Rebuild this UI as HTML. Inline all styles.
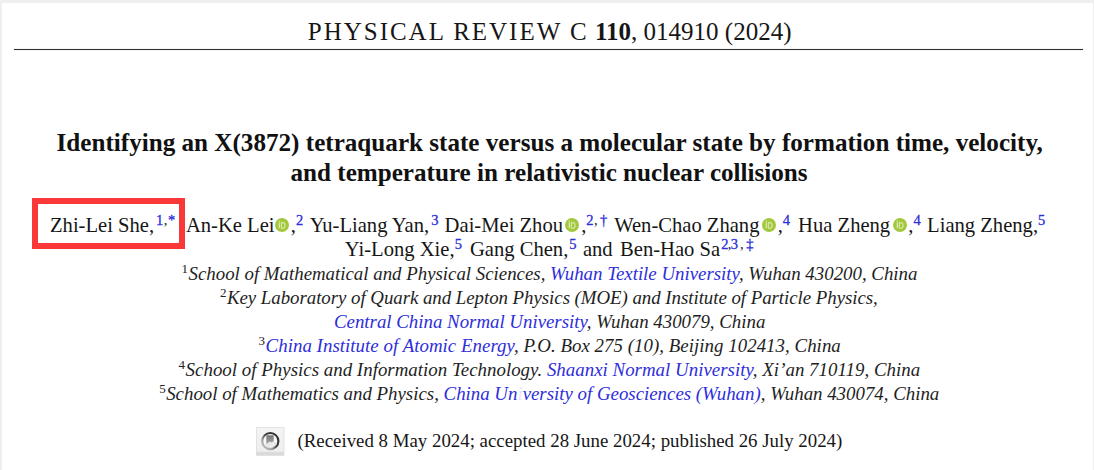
<!DOCTYPE html>
<html>
<head>
<meta charset="utf-8">
<style>
html,body{margin:0;padding:0;}
body{width:1094px;height:470px;overflow:hidden;background:#efefef;position:relative;font-family:"Liberation Serif",serif;color:#161616;}
#page{position:absolute;left:2px;top:3px;width:1091px;height:467px;background:#fff;}
.ln{position:absolute;left:0;text-align:left;white-space:nowrap;line-height:30px;height:30px;}
.hdr{font-size:25px;transform:translateY(0.25px) scaleY(1.035);transform-origin:0 23px;}
.hdr .sp{letter-spacing:1.98px;}
#rule{position:absolute;left:14px;top:49px;width:1069px;height:1px;background:#2e2e2e;box-shadow:0 0 1px rgba(0,0,0,.35);}
.ttl{font-size:25.14px;font-weight:bold;color:#111;}
.au{font-size:20.6px;}
.af{font-size:18.85px;font-style:italic;color:#1e1e1e;}
.rc{font-size:18.85px;}
sup{font-size:14.5px;line-height:0;vertical-align:baseline;position:relative;top:-7px;color:#1a1a1a;font-style:normal;letter-spacing:.5px;}
.au sup{margin-right:3.3px;}
.au sup.l{margin-right:0;}
.au sup a{-webkit-text-stroke:0.3px #2e2edb;}
.af sup{color:#222;font-size:13px;top:-7px;}
.af sup.b{color:#3333dd;}
a{color:#2e2edb;text-decoration:none;}
.orc{display:inline-block;width:14px;height:14px;vertical-align:baseline;position:relative;top:0.4px;margin:0 1.8px 0 2.4px;}
#box{position:absolute;left:32px;top:198px;width:153px;height:50.7px;box-sizing:border-box;border:6.9px solid #fa3838;}
#cm{position:absolute;left:256px;top:427px;width:28.5px;height:28.5px;}
</style>
</head>
<body>
<div id="page"></div>
<div class="ln hdr" id="hdr" style="top:17px;left:307.8px;"><span class="sp">PHYSICAL REVIEW C</span> <b>110</b>, 014910 (2024)</div>
<div id="rule"></div>
<div class="ln ttl" id="t1" style="top:128px;left:56.6px;">Identifying an X(3872) tetraquark state versus a molecular state by formation time, velocity,</div>
<div class="ln ttl" id="t2" style="top:158px;left:290.5px;">and temperature in relativistic nuclear collisions</div>
<div class="ln au" id="a1" style="top:210px;left:50px;">Zhi-Lei She,<sup style="margin-left:2px;margin-right:6.2px"><a>1</a>,<a>*</a></sup> An-Ke Lei<svg class="orc" style="margin-left:0.5px" viewBox="0 0 14 14"><circle cx="7" cy="7" r="7" fill="#a3c83e"/><rect x="3.7" y="4.6" width="1.3" height="5.6" fill="#d8eaa8"/><circle cx="4.35" cy="3.3" r="0.75" fill="#d8eaa8"/><path d="M6.4 4.6h1.2a2.5 2.8 0 0 1 0 5.6h-1.2z" fill="none" stroke="#d8eaa8" stroke-width="1.1"/></svg>,<sup style="margin-right:1.5px"><a>2</a></sup> Yu-Liang Yan,<sup style="margin-left:2px;margin-right:0.5px"><a>3</a></sup> Dai-Mei Zhou<svg class="orc" viewBox="0 0 14 14"><circle cx="7" cy="7" r="7" fill="#a3c83e"/><rect x="3.7" y="4.6" width="1.3" height="5.6" fill="#d8eaa8"/><circle cx="4.35" cy="3.3" r="0.75" fill="#d8eaa8"/><path d="M6.4 4.6h1.2a2.5 2.8 0 0 1 0 5.6h-1.2z" fill="none" stroke="#d8eaa8" stroke-width="1.1"/></svg>,<sup style="margin-right:1.6px"><a>2</a><span style="margin-right:1.8px">,</span><a>†</a></sup> Wen-Chao Zhang<svg class="orc" viewBox="0 0 14 14"><circle cx="7" cy="7" r="7" fill="#a3c83e"/><rect x="3.7" y="4.6" width="1.3" height="5.6" fill="#d8eaa8"/><circle cx="4.35" cy="3.3" r="0.75" fill="#d8eaa8"/><path d="M6.4 4.6h1.2a2.5 2.8 0 0 1 0 5.6h-1.2z" fill="none" stroke="#d8eaa8" stroke-width="1.1"/></svg>,<sup style="margin-right:2.4px"><a>4</a></sup> Hua Zheng<svg class="orc" viewBox="0 0 14 14"><circle cx="7" cy="7" r="7" fill="#a3c83e"/><rect x="3.7" y="4.6" width="1.3" height="5.6" fill="#d8eaa8"/><circle cx="4.35" cy="3.3" r="0.75" fill="#d8eaa8"/><path d="M6.4 4.6h1.2a2.5 2.8 0 0 1 0 5.6h-1.2z" fill="none" stroke="#d8eaa8" stroke-width="1.1"/></svg>,<sup style="margin-right:0.7px"><a>4</a></sup> Liang Zheng,<sup class="l"><a>5</a></sup></div>
<div class="ln au" id="a2" style="top:234px;left:344.8px;">Yi-Long Xie,<sup style="margin-right:2.4px"><a>5</a></sup> Gang Chen,<sup style="margin-left:1px;margin-right:0.7px"><a>5</a></sup> <span style="margin-right:2.3px">and</span> Ben-Hao Sa<sup class="l" style="margin-left:1.1px"><a style="margin-right:-1.2px">2</a><span style="margin-right:-1.1px">,</span><a>3</a><span style="margin-left:1.5px;margin-right:2px">,</span><a>‡</a></sup></div>
<div class="ln af" id="f1" style="top:259px;left:181.5px;"><sup>1</sup>School of Mathematical and Physical Sciences, <a>Wuhan Textile University</a>, Wuhan 430200, China</div>
<div class="ln af" id="f2" style="top:283px;left:220px;letter-spacing:-0.035px;"><sup>2</sup>Key Laboratory of Quark and Lepton Physics (MOE) and Institute of Particle Physics,</div>
<div class="ln af" id="f3" style="top:307px;left:334px;"><a>Central China Normal University</a>, Wuhan 430079, China</div>
<div class="ln af" id="f4" style="top:331px;left:258.6px;letter-spacing:0.04px;"><sup>3</sup><a>China Institute of Atomic Energy</a>, P.O. Box 275 (10), Beijing 102413, China</div>
<div class="ln af" id="f5" style="top:355px;left:178.6px;letter-spacing:0.03px;"><sup>4</sup>School of Physics and Information Technology. <a>Shaanxi Normal University</a>, Xi’an 710119, China</div>
<div class="ln af" id="f6" style="top:379px;left:159.2px;"><sup>5</sup>School of Mathematics and Physics, <a>China Un<span style="opacity:.12">i</span>versity of Geosciences (Wuhan)</a>, Wuhan 430074, China</div>
<div class="ln rc" id="rc" style="top:426px;left:297.5px;">(Received 8 May 2024; accepted 28 June 2024; published 26 July 2024)</div>
<svg id="cm" viewBox="0 0 28.5 28.5">
<defs><linearGradient id="rg" x1="1" y1="0" x2="0" y2="1"><stop offset="0" stop-color="#2a2a2a"/><stop offset="0.45" stop-color="#3a3a3a"/><stop offset="0.7" stop-color="#a0a0a0"/><stop offset="1" stop-color="#c4c4c4"/></linearGradient>
<linearGradient id="bg" x1="0" y1="0" x2="0" y2="1"><stop offset="0" stop-color="#f4f4f4"/><stop offset="0.86" stop-color="#eeeeee"/><stop offset="0.88" stop-color="#dcdcdc"/><stop offset="1" stop-color="#d8d8d8"/></linearGradient>
<linearGradient id="bm" x1="0" y1="0" x2="0" y2="1"><stop offset="0" stop-color="#777"/><stop offset="1" stop-color="#a5a5a5"/></linearGradient></defs>
<rect x="0.4" y="0.3" width="27.6" height="28" fill="url(#bg)" stroke="#dcdcdc" stroke-width="0.8"/>
<circle cx="14.3" cy="14.1" r="8.1" fill="#f7f7f7" stroke="url(#rg)" stroke-width="2.1"/>
<path d="M10.3 8.2h7.4v8.8l-3.7-2.4l-3.7 2.4z" fill="url(#bm)"/>
<path d="M10.2 17.6l7.2-3.2l3.2 3.2l-6.4 3.6z" fill="#ececec" stroke="#c4c4c4" stroke-width="0.5"/>
</svg>
<div id="box"></div>
</body>
</html>
